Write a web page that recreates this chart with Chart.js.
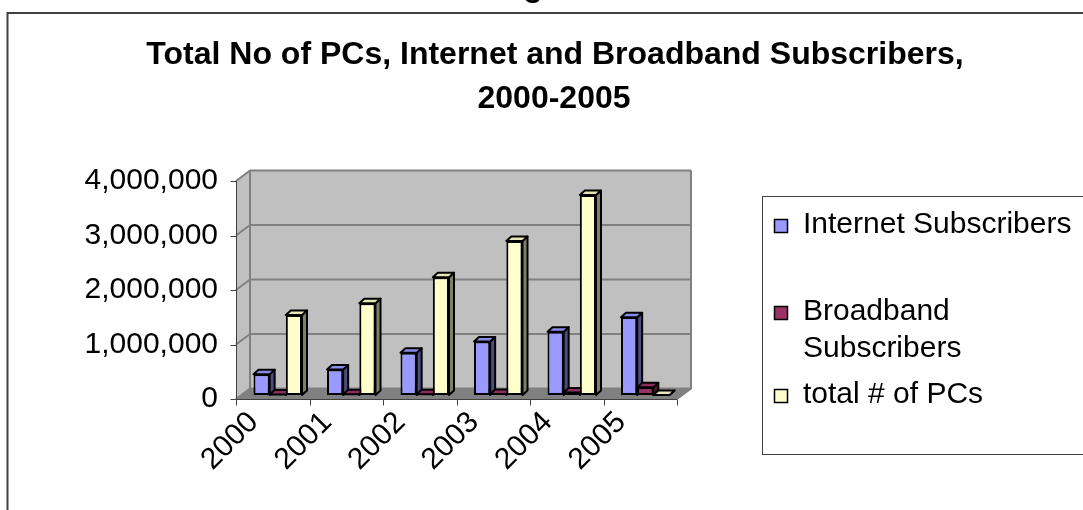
<!DOCTYPE html>
<html>
<head>
<meta charset="utf-8">
<script src="https://cdn.jsdelivr.net/npm/chart.js@4.4.0/dist/chart.umd.min.js"></script>
<style>
  html, body { margin: 0; padding: 0; background: #fff; }
  #wrap { width: 1083px; height: 510px; }
</style>
</head>
<body>
<div id="wrap"><canvas id="chart" width="1083" height="510"></canvas></div>
<script>
// data
const years = ['2000', '2001', '2002', '2003', '2004', '2005'];
const internetSubs = [380000, 470000, 775000, 980000, 1160000, 1425000];
const broadbandSubs = [10000, 12000, 15000, 20000, 45000, 140000];
const totalPCs = [1470000, 1685000, 2160000, 2825000, 3670000, 0];
const yTicks = [0, 1000000, 2000000, 3000000, 4000000];
const seriesNames = ['Internet Subscribers', 'Broadband Subscribers', 'total # of PCs'];
const titleLines = ['Total No of PCs, Internet and Broadband Subscribers,', '2000-2005'];

// colours: front / side / top face
const frontColors = ['#9999FF', '#993366', '#FFFFCC'];
const sideColors = ['#4C4C80', '#4C1933', '#808066'];
const topColors = ['#8C8CEB', '#8A2E5C', '#E6E6B8'];

const FONT = '"Liberation Sans", Arial, sans-serif';

// 3D offsets relative to the plane the bars stand in
const FRONT = { dx: -5, dy: 4 };
const BACK = { dx: 9, dy: -6.5 };
const BAR_DX = 5, BAR_DY = 4.5;

function poly(ctx, pts, fill, stroke, lw) {
    ctx.beginPath();
    ctx.moveTo(pts[0][0], pts[0][1]);
    for (let i = 1; i < pts.length; i++) ctx.lineTo(pts[i][0], pts[i][1]);
    ctx.closePath();
    if (fill) { ctx.fillStyle = fill; ctx.fill(); }
    if (stroke) { ctx.strokeStyle = stroke; ctx.lineWidth = lw || 1; ctx.stroke(); }
}

// background, outer frame and title
const framePlugin = {
    id: 'frame',
    beforeDraw(chart) {
        const ctx = chart.ctx;
        ctx.save();
        ctx.fillStyle = '#fff';
        ctx.fillRect(0, 0, chart.width, chart.height);
        ctx.strokeStyle = '#404040';
        ctx.lineWidth = 2;
        ctx.beginPath();
        ctx.moveTo(7.5, chart.height);
        ctx.lineTo(7.5, 13);
        ctx.lineTo(chart.width, 13);
        ctx.stroke();

        ctx.fillStyle = '#000';
        ctx.textAlign = 'center';
        ctx.textBaseline = 'alphabetic';
        ctx.font = 'bold 32px ' + FONT;
        ctx.fillText('g', 533, -4); // cut-off text above the frame
        ctx.fillText(titleLines[0], 555, 63.5);
        ctx.fillText(titleLines[1], 554, 108);
        ctx.restore();
    }
};

// walls, floor, gridlines, front axes and bar side/top faces
const wallsPlugin = {
    id: 'walls',
    beforeDatasetsDraw(chart) {
        const ctx = chart.ctx;
        const a = chart.chartArea;
        const ys = chart.scales.y;
        const xs = chart.scales.x;
        ctx.save();
        ctx.lineJoin = 'round';

        // back wall
        ctx.fillStyle = '#C0C0C0';
        ctx.fillRect(a.left + BACK.dx, a.top + BACK.dy, a.right - a.left, a.bottom - a.top);
        // side wall
        poly(ctx, [[a.left + FRONT.dx, a.top + FRONT.dy], [a.left + BACK.dx, a.top + BACK.dy],
                   [a.left + BACK.dx, a.bottom + BACK.dy], [a.left + FRONT.dx, a.bottom + FRONT.dy]], '#C0C0C0');
        // floor
        poly(ctx, [[a.left + FRONT.dx, a.bottom + FRONT.dy], [a.left + BACK.dx, a.bottom + BACK.dy],
                   [a.right + BACK.dx, a.bottom + BACK.dy], [a.right + FRONT.dx, a.bottom + FRONT.dy]], '#808080');

        // gridlines across side and back wall
        ctx.strokeStyle = '#808080';
        ctx.lineWidth = 2;
        yTicks.forEach(v => {
            const py = ys.getPixelForValue(v);
            ctx.beginPath();
            ctx.moveTo(a.left + FRONT.dx, py + FRONT.dy);
            ctx.lineTo(a.left + BACK.dx, py + BACK.dy);
            ctx.lineTo(a.right + BACK.dx, py + BACK.dy);
            ctx.stroke();
        });
        ctx.beginPath();
        ctx.moveTo(a.left + BACK.dx, a.top + BACK.dy);
        ctx.lineTo(a.left + BACK.dx, a.bottom + BACK.dy);
        ctx.moveTo(a.right + BACK.dx, a.top + BACK.dy);
        ctx.lineTo(a.right + BACK.dx, a.bottom + BACK.dy);
        ctx.lineTo(a.right + FRONT.dx, a.bottom + FRONT.dy);
        ctx.stroke();

        // front axes with tick marks
        const ax = Math.round(a.left + FRONT.dx) + 0.5;
        const ay = Math.round(a.bottom + FRONT.dy) + 0.5;
        ctx.strokeStyle = '#404040';
        ctx.lineWidth = 1;
        ctx.beginPath();
        ctx.moveTo(ax, ys.getPixelForValue(yTicks[yTicks.length - 1]) + FRONT.dy);
        ctx.lineTo(ax, ay);
        ctx.lineTo(a.right + FRONT.dx, ay);
        yTicks.forEach(v => {
            const py = Math.round(ys.getPixelForValue(v) + FRONT.dy) + 0.5;
            ctx.moveTo(ax - 6, py);
            ctx.lineTo(ax, py);
        });
        const catW = (a.right - a.left) / years.length;
        for (let i = 0; i <= years.length; i++) {
            const px = Math.round(xs.getPixelForValue(0) - catW / 2 + i * catW + FRONT.dx) + 0.5;
            ctx.moveTo(px, ay);
            ctx.lineTo(px, ay + 6);
        }
        ctx.stroke();

        // side and top faces of every bar
        chart.data.datasets.forEach((ds, di) => {
            const meta = chart.getDatasetMeta(di);
            meta.data.forEach(bar => {
                const p = bar.getProps(['x', 'y', 'base', 'width'], true);
                const l = p.x - p.width / 2, r = p.x + p.width / 2;
                const t = Math.min(p.y, p.base), b = Math.max(p.y, p.base);
                poly(ctx, [[r, t], [r + BAR_DX, t - BAR_DY], [r + BAR_DX, b - BAR_DY], [r, b]], sideColors[di], '#000', 2);
                poly(ctx, [[l, t], [l + BAR_DX, t - BAR_DY], [r + BAR_DX, t - BAR_DY], [r, t]], topColors[di], '#000', 2);
            });
        });
        ctx.restore();
    }
};

// legend box on the right, with wrapped labels
const legendPlugin = {
    id: 'sideLegend',
    afterDraw(chart) {
        const ctx = chart.ctx;
        const baselines = [233, 320, 403];
        ctx.save();
        ctx.strokeStyle = '#404040';
        ctx.lineWidth = 1;
        ctx.strokeRect(762.5, 196.5, 400, 258);
        ctx.font = '30px ' + FONT;
        ctx.textBaseline = 'alphabetic';
        ctx.textAlign = 'left';
        chart.data.datasets.forEach((ds, i) => {
            const by = baselines[i];
            ctx.fillStyle = ds.backgroundColor;
            ctx.fillRect(774.5, by - 13.5, 13, 13);
            ctx.strokeStyle = '#000';
            ctx.lineWidth = 1.5;
            ctx.strokeRect(774.5, by - 13.5, 13, 13);
            // simple word wrap
            const lines = [];
            let cur = '';
            ds.label.split(' ').forEach(w => {
                const test = cur ? cur + ' ' + w : w;
                if (cur && ctx.measureText(test).width > 290) { lines.push(cur); cur = w; }
                else cur = test;
            });
            lines.push(cur);
            ctx.fillStyle = '#000';
            lines.forEach((ln, k) => ctx.fillText(ln, 803, by + k * 36.7));
        });
        ctx.restore();
    }
};

const seriesData = [internetSubs, broadbandSubs, totalPCs];

new Chart(document.getElementById('chart'), {
    type: 'bar',
    data: {
        labels: years,
        datasets: seriesData.map((d, i) => ({
            label: seriesNames[i],
            data: d,
            backgroundColor: frontColors[i],
            borderColor: '#000',
            borderWidth: 2,
            borderSkipped: false,
            barPercentage: 1,
            categoryPercentage: 0.66
        }))
    },
    options: {
        responsive: false,
        animation: false,
        layout: { padding: { left: 0, right: 401, top: 177, bottom: 0 } },
        plugins: {
            legend: { display: false },
            title: { display: false },
            tooltip: { enabled: false }
        },
        scales: {
            x: {
                grid: { display: false, drawTicks: false },
                border: { display: false },
                ticks: {
                    color: '#000',
                    font: { family: FONT, size: 30 },
                    minRotation: 45,
                    maxRotation: 45,
                    autoSkip: false,
                    padding: 10,
                    labelOffset: -24
                },
                afterFit(scale) { scale.height = 115; }
            },
            y: {
                min: 0,
                max: 4000000,
                grid: { display: false, drawTicks: false },
                border: { display: false },
                afterBuildTicks(scale) { scale.ticks = yTicks.map(v => ({ value: v })); },
                ticks: {
                    color: '#000',
                    font: { family: FONT, size: 30 },
                    padding: 23,
                    labelOffset: 4,
                    callback: v => v.toLocaleString('en-US')
                },
                afterFit(scale) { scale.width = 241; }
            }
        }
    },
    plugins: [framePlugin, wallsPlugin, legendPlugin]
});
</script>
</body>
</html>
